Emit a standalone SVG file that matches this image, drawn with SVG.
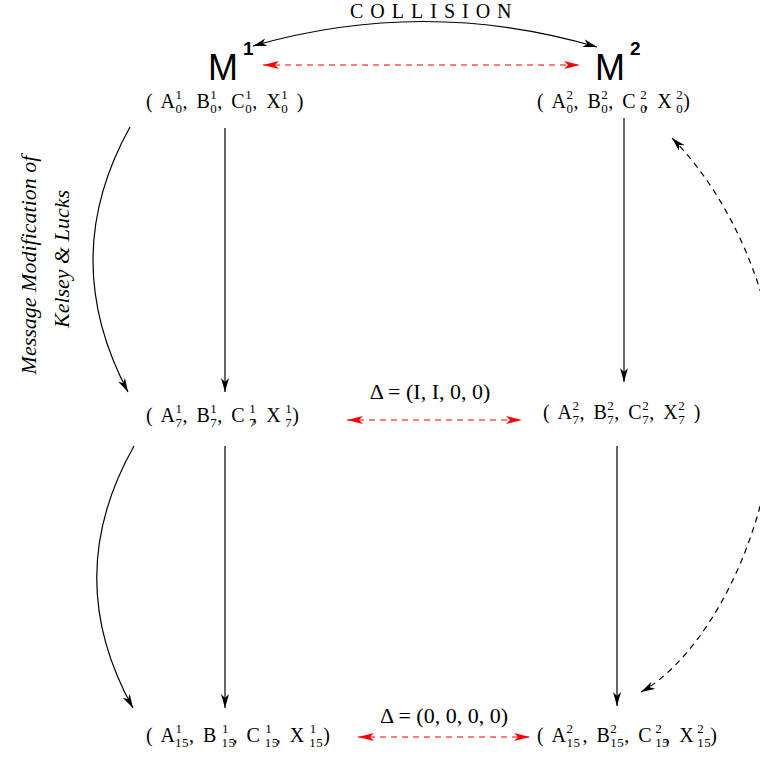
<svg xmlns="http://www.w3.org/2000/svg" width="760" height="758" viewBox="0 0 760 758">
<defs>
<style>
.t{font-family:"Liberation Serif","Times New Roman",serif;font-size:20px;fill:#000;word-spacing:3px;letter-spacing:0.5px}
.sup{font-size:13px}
.sub{font-size:13px}
.d{font-family:"Liberation Serif","Times New Roman",serif;font-size:22px;fill:#000}
.m{font-family:"Liberation Sans",Arial,sans-serif;font-size:36px;fill:#000}
.ms{font-family:"Liberation Sans",Arial,sans-serif;font-size:19px;font-weight:bold;fill:#000}
.blk{fill:none;stroke:#000;stroke-width:1.2}
.dsh{fill:none;stroke:#000;stroke-width:1.2;stroke-dasharray:6 5}
.red{fill:none;stroke:#f00;stroke-width:1.2;stroke-dasharray:6 5}
.lab{font-family:"Liberation Serif","Times New Roman",serif;font-size:22px;font-style:italic;fill:#000}
</style>
<marker id="ab" viewBox="0 0 14 8" refX="14" refY="4" markerWidth="14" markerHeight="8" markerUnits="userSpaceOnUse" orient="auto-start-reverse">
<path d="M0,0 L14,4 L0,8 L4,4 z" fill="#000"/>
</marker>
<marker id="ar" viewBox="0 0 16 8" refX="16" refY="4" markerWidth="16" markerHeight="8" markerUnits="userSpaceOnUse" orient="auto-start-reverse">
<path d="M0,0 L16,4 L0,8 L4,4 z" fill="#f00"/>
</marker>
</defs>
<rect width="760" height="758" fill="#fff"/>

<g id="connectors">
<path class="blk" d="M597,47 Q425,-3.5 253,46" marker-start="url(#ab)" marker-end="url(#ab)"/>
<line class="red" x1="263" y1="65" x2="580" y2="65" marker-start="url(#ar)" marker-end="url(#ar)"/>
<path class="blk" d="M130,127 Q57,258 128,392" marker-end="url(#ab)"/>
<line class="blk" x1="225" y1="128" x2="225" y2="392" marker-end="url(#ab)"/>
<line class="blk" x1="624" y1="118" x2="624" y2="382" marker-end="url(#ab)"/>
<path class="blk" d="M134,446 Q60,577 133,708" marker-end="url(#ab)"/>
<line class="blk" x1="225" y1="446" x2="225" y2="708" marker-end="url(#ab)"/>
<line class="blk" x1="617" y1="446" x2="617" y2="706" marker-end="url(#ab)"/>
<line class="red" x1="347" y1="420" x2="522" y2="420" marker-start="url(#ar)" marker-end="url(#ar)"/>
<line class="red" x1="358" y1="737" x2="530" y2="737" marker-start="url(#ar)" marker-end="url(#ar)"/>
<path class="dsh" d="M641,692 C700,660 776,540 776,385 C776,310 738,205 672,138" marker-start="url(#ab)" marker-end="url(#ab)"/>
</g>

<g id="collision-label"><text x="350" y="18" font-family="Liberation Serif, Times New Roman, serif" font-size="20" letter-spacing="7" fill="#000">COLLISION</text></g>

<g id="M1"><text class="m" x="208" y="80">M</text><text class="ms" x="243" y="55">1</text></g>
<g id="M2"><text class="m" x="595" y="80">M</text><text class="ms" x="630" y="55">2</text></g>

<g id="state0-1"><text class="t" x="146" y="108">( A<tspan class="sup" dy="-9">1</tspan><tspan class="sub" dx="-7" dy="14">0</tspan><tspan dy="-5">, B</tspan><tspan class="sup" dy="-9">1</tspan><tspan class="sub" dx="-7" dy="14">0</tspan><tspan dy="-5">, C</tspan><tspan class="sup" dy="-9">1</tspan><tspan class="sub" dx="-7" dy="14">0</tspan><tspan dy="-5">, X</tspan><tspan class="sup" dy="-9">1</tspan><tspan class="sub" dx="-7" dy="14">0</tspan><tspan dy="-5"> )</tspan></text></g>

<g id="state0-2"><text class="t" x="537" y="108">( A<tspan class="sup" dy="-9">2</tspan><tspan class="sub" dx="-7" dy="14">0</tspan><tspan dy="-5">, B</tspan><tspan class="sup" dy="-9">2</tspan><tspan class="sub" dx="-7" dy="14">0</tspan><tspan dy="-5">, C</tspan><tspan class="sup" dx="4" dy="-9">2</tspan><tspan class="sub" dx="-7" dy="14">0</tspan><tspan dx="-4" dy="-5">, X</tspan><tspan class="sup" dx="4" dy="-9">2</tspan><tspan class="sub" dx="-7" dy="14">0</tspan><tspan dy="-5">)</tspan></text></g>

<g id="state7-1"><text class="t" x="146" y="422">( A<tspan class="sup" dy="-9">1</tspan><tspan class="sub" dx="-7" dy="14">7</tspan><tspan dy="-5">, B</tspan><tspan class="sup" dy="-9">1</tspan><tspan class="sub" dx="-7" dy="14">7</tspan><tspan dy="-5">, C</tspan><tspan class="sup" dx="4" dy="-9">1</tspan><tspan class="sub" dx="-7" dy="14">7</tspan><tspan dx="-4" dy="-5">, X</tspan><tspan class="sup" dx="4" dy="-9">1</tspan><tspan class="sub" dx="-7" dy="14">7</tspan><tspan dy="-5">)</tspan></text></g>

<g id="state7-2"><text class="t" x="543" y="419">( A<tspan class="sup" dy="-9">2</tspan><tspan class="sub" dx="-7" dy="14">7</tspan><tspan dy="-5">, B</tspan><tspan class="sup" dy="-9">2</tspan><tspan class="sub" dx="-7" dy="14">7</tspan><tspan dy="-5">, C</tspan><tspan class="sup" dy="-9">2</tspan><tspan class="sub" dx="-7" dy="14">7</tspan><tspan dy="-5">, X</tspan><tspan class="sup" dy="-9">2</tspan><tspan class="sub" dx="-7" dy="14">7</tspan><tspan dy="-5"> )</tspan></text></g>

<g id="state15-1"><text class="t" x="146" y="742">( A<tspan class="sup" dy="-9">1</tspan><tspan class="sub" dx="-7" dy="14">15</tspan><tspan dy="-5">, B</tspan><tspan class="sup" dx="5" dy="-9">1</tspan><tspan class="sub" dx="-7" dy="14">15</tspan><tspan dx="-3" dy="-5">, C</tspan><tspan class="sup" dx="5" dy="-9">1</tspan><tspan class="sub" dx="-7" dy="14">15</tspan><tspan dx="-3" dy="-5">, X</tspan><tspan class="sup" dx="5" dy="-9">1</tspan><tspan class="sub" dx="-7" dy="14">15</tspan><tspan dy="-5">)</tspan></text></g>

<g id="state15-2"><text class="t" x="537" y="742">( A<tspan class="sup" dy="-9">2</tspan><tspan class="sub" dx="-7" dy="14">15</tspan><tspan dx="2" dy="-5">, B</tspan><tspan class="sup" dy="-9">2</tspan><tspan class="sub" dx="-7" dy="14">15</tspan><tspan dy="-5">, C</tspan><tspan class="sup" dx="3" dy="-9">2</tspan><tspan class="sub" dx="-7" dy="14">15</tspan><tspan dx="-4" dy="-5">, X</tspan><tspan class="sup" dx="3" dy="-9">2</tspan><tspan class="sub" dx="-7" dy="14">15</tspan><tspan dx="-1" dy="-5">)</tspan></text></g>

<g id="delta7"><text class="d" x="430" y="399" text-anchor="middle">Δ = (I, I, 0, 0)</text></g>
<g id="delta15"><text class="d" x="444" y="723" text-anchor="middle">Δ = (0, 0, 0, 0)</text></g>

<g id="side-label">
<text class="lab" transform="translate(36,265) rotate(-90)" text-anchor="middle">Message Modification of</text>
<text class="lab" transform="translate(69,259) rotate(-90)" text-anchor="middle">Kelsey &amp; Lucks</text>
</g>
</svg>
